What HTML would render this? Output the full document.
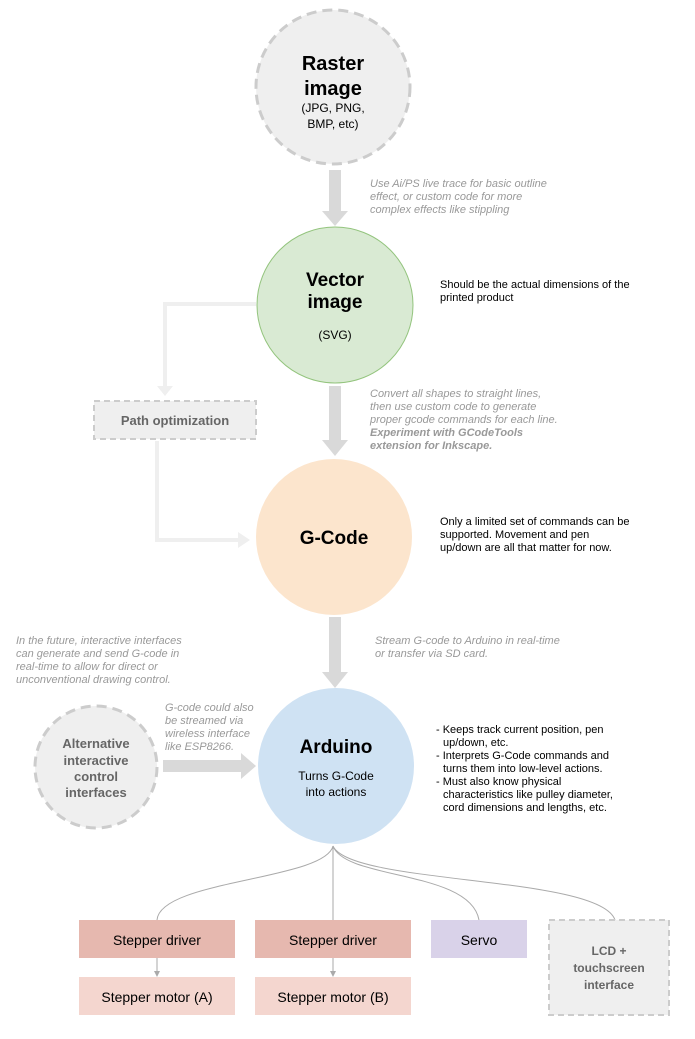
<!DOCTYPE html>
<html><head><meta charset="utf-8"><style>
body{margin:0;background:#fff}
svg{display:block;font-family:"Liberation Sans",sans-serif}
.g{fill:#999;font-style:italic;font-size:11px}
.k{fill:#000;font-size:11px}
</style></head><body>
<svg width="695" height="1039" viewBox="0 0 695 1039">
<g fill="#d9d9d9">
<rect x="329" y="170" width="12" height="43"/><polygon points="322,211 348,211 335,226"/>
<rect x="329" y="386" width="12" height="56"/><polygon points="322,440 348,440 335,456"/>
<rect x="329" y="617" width="12" height="57"/><polygon points="322,672 348,672 335,688"/>
<rect x="163" y="760" width="80" height="12"/><polygon points="241,753 241,779 256,766"/>
</g>
<g fill="none" stroke="#efefef" stroke-width="4">
<polyline points="256,304 165,304 165,388"/>
<polyline points="157,441 157,540 240,540"/>
</g>
<g fill="#efefef"><polygon points="157,386 173,386 165,396"/><polygon points="238,532 238,548 250,540"/></g>
<circle cx="333" cy="87" r="77" fill="#efefef" stroke="#ccc" stroke-width="3" stroke-dasharray="10,6"/>
<text x="333" y="70" text-anchor="middle" font-size="20" font-weight="bold">Raster</text>
<text x="333" y="95" text-anchor="middle" font-size="20" font-weight="bold">image</text>
<text x="333" y="112" text-anchor="middle" font-size="12">(JPG, PNG,</text>
<text x="333" y="128" text-anchor="middle" font-size="12">BMP, etc)</text>
<circle cx="335" cy="305" r="78" fill="#d9ead3" stroke="#93c47d"/>
<text x="335" y="286" text-anchor="middle" font-size="19" font-weight="bold">Vector</text>
<text x="335" y="308" text-anchor="middle" font-size="19" font-weight="bold">image</text>
<text x="335" y="339" text-anchor="middle" font-size="12">(SVG)</text>
<circle cx="334" cy="537" r="78" fill="#fce5cd"/>
<text x="334" y="544" text-anchor="middle" font-size="19" font-weight="bold">G-Code</text>
<circle cx="336" cy="766" r="78" fill="#cfe2f3"/>
<text x="336" y="753" text-anchor="middle" font-size="19" font-weight="bold">Arduino</text>
<text x="336" y="780" text-anchor="middle" font-size="12">Turns G-Code</text>
<text x="336" y="796" text-anchor="middle" font-size="12">into actions</text>
<circle cx="96" cy="767" r="61" fill="#efefef" stroke="#ccc" stroke-width="3" stroke-dasharray="10,6"/>
<g text-anchor="middle" font-size="13" font-weight="bold" fill="#666">
<text x="96" y="748">Alternative</text><text x="96" y="765">interactive</text><text x="96" y="781">control</text><text x="96" y="797">interfaces</text></g>
<rect x="94" y="401" width="162" height="38" fill="#efefef" stroke="#ccc" stroke-width="2" stroke-dasharray="6,4"/>
<text x="175" y="425" text-anchor="middle" font-size="13" font-weight="bold" fill="#666">Path optimization</text>
<text class="g" x="370" y="187">Use Ai/PS live trace for basic outline</text>
<text class="g" x="370" y="200">effect, or custom code for more</text>
<text class="g" x="370" y="213">complex effects like stippling</text>
<text class="k" x="440" y="288">Should be the actual dimensions of the</text>
<text class="k" x="440" y="301">printed product</text>
<text class="g" x="370" y="397">Convert all shapes to straight lines,</text>
<text class="g" x="370" y="410">then use custom code to generate</text>
<text class="g" x="370" y="423">proper gcode commands for each line.</text>
<text class="g" x="370" y="436" font-weight="bold">Experiment with GCodeTools</text>
<text class="g" x="370" y="449" font-weight="bold">extension for Inkscape.</text>
<text class="k" x="440" y="525">Only a limited set of commands can be</text>
<text class="k" x="440" y="538">supported. Movement and pen</text>
<text class="k" x="440" y="551">up/down are all that matter for now.</text>
<text class="g" x="16" y="644">In the future, interactive interfaces</text>
<text class="g" x="16" y="657">can generate and send G-code in</text>
<text class="g" x="16" y="670">real-time to allow for direct or</text>
<text class="g" x="16" y="683">unconventional drawing control.</text>
<text class="g" x="375" y="644">Stream G-code to Arduino in real-time</text>
<text class="g" x="375" y="657">or transfer via SD card.</text>
<text class="g" x="165" y="711">G-code could also</text>
<text class="g" x="165" y="724">be streamed via</text>
<text class="g" x="165" y="737">wireless interface</text>
<text class="g" x="165" y="750">like ESP8266.</text>
<text class="k" x="436" y="733">- Keeps track current position, pen</text>
<text class="k" x="443" y="746">up/down, etc.</text>
<text class="k" x="436" y="759">- Interprets G-Code commands and</text>
<text class="k" x="443" y="772">turns them into low-level actions.</text>
<text class="k" x="436" y="785">- Must also know physical</text>
<text class="k" x="443" y="798">characteristics like pulley diameter,</text>
<text class="k" x="443" y="811">cord dimensions and lengths, etc.</text>
<g fill="none" stroke="#aaa" stroke-width="1">
<path d="M333,846 C325,880 160,880 157,920"/>
<path d="M333,846 L333,920"/>
<path d="M333,846 C345,880 470,870 479,920"/>
<path d="M333,846 C350,885 600,875 615,920"/>
<line x1="157" y1="958" x2="157" y2="972"/><line x1="333" y1="958" x2="333" y2="972"/>
</g>
<g fill="#aaa"><polygon points="154,971 160,971 157,977"/><polygon points="330,971 336,971 333,977"/></g>
<rect x="79" y="920" width="156" height="38" fill="#e6b8af"/>
<rect x="255" y="920" width="156" height="38" fill="#e6b8af"/>
<rect x="431" y="920" width="96" height="38" fill="#d9d2e9"/>
<rect x="79" y="977" width="156" height="38" fill="#f4d6cf"/>
<rect x="255" y="977" width="156" height="38" fill="#f4d6cf"/>
<rect x="549" y="920" width="120" height="95" fill="#efefef" stroke="#ccc" stroke-width="2" stroke-dasharray="6,4"/>
<g text-anchor="middle" font-size="14">
<text x="157" y="945">Stepper driver</text><text x="333" y="945">Stepper driver</text><text x="479" y="945">Servo</text>
<text x="157" y="1002">Stepper motor (A)</text><text x="333" y="1002">Stepper motor (B)</text></g>
<g text-anchor="middle" font-size="12" font-weight="bold" fill="#666">
<text x="609" y="955">LCD +</text><text x="609" y="972">touchscreen</text><text x="609" y="989">interface</text></g>
</svg>
</body></html>
